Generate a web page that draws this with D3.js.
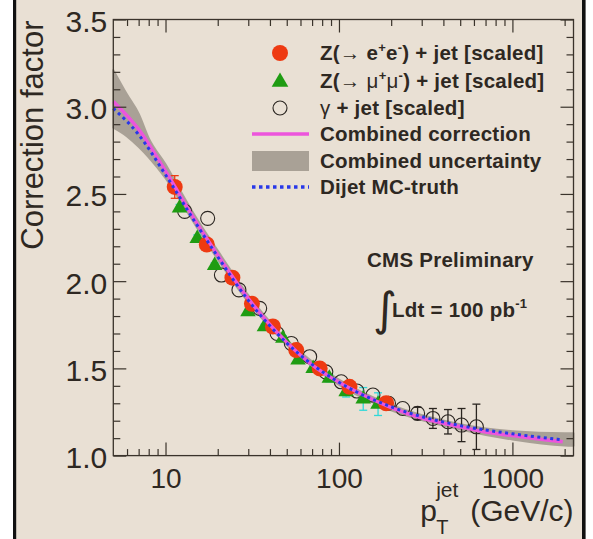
<!DOCTYPE html>
<html><head><meta charset="utf-8">
<script src="https://cdn.jsdelivr.net/npm/d3@7"></script>
<style>html,body{margin:0;padding:0;background:#fff;}svg{display:block;}</style>
</head><body>
<svg id="c" width="593" height="539"></svg>
<script>
// ---- data ----
const ptCurve   = [5,7,10,15,20,30,40,50,70,100,150,200,300,500,700,1000,1500,1950];
const corrCurve = [3.03,2.87,2.63,2.34,2.15,1.90,1.75,1.65,1.52,1.42,1.33,1.275,1.215,1.165,1.135,1.115,1.092,1.079];

const mcPt  = [5,7,10,15,20,30,50,100,200,500,1000,1900];
const mcVal = [2.99,2.84,2.61,2.33,2.14,1.89,1.645,1.42,1.28,1.172,1.125,1.092];

const bandPt = [5,6,7,8,10,12,15,20,30,50,100,200,500,1000,2000,2250];
const bandLo = [2.88,2.83,2.77,2.71,2.59,2.47,2.315,2.125,1.88,1.635,1.405,1.26,1.15,1.092,1.058,1.056];
const bandHi = [3.21,3.07,2.96,2.82,2.67,2.53,2.365,2.175,1.92,1.665,1.435,1.29,1.18,1.14,1.128,1.128];

const zeePt  = [11.3,17.3,24.3,31.5,41.6,56.7,77.4,115,187];
const zeeVal = [2.54,2.21,2.02,1.87,1.74,1.605,1.50,1.394,1.30];
const zeeErr = [0.065,0.03,0.02,0.02,0.015,0.015,0.015,0.015,0.02];

const zmmPt  = [12.05,15.24,19.2,29.9,37.2,47.5,58.1,71,88,110,138,168];
const zmmVal = [2.42,2.245,2.09,1.824,1.738,1.672,1.548,1.50,1.443,1.366,1.325,1.295];
const zmmErr = [0.02,0.02,0.015,0.015,0.015,0.015,0.015,0.02,0.02,0.03,0.065,0.065];

const gPt  = [12.9,17.5,21.0,26.5,34.9,44,53.1,67.8,84,103,127,157,193,233,284,348,425,509,620];
const gVal = [2.40,2.36,2.035,1.95,1.844,1.70,1.643,1.567,1.48,1.423,1.37,1.347,1.30,1.27,1.242,1.213,1.194,1.175,1.165];
const gErr = [0,0,0,0,0,0,0,0,0,0,0,0,0,0,0.035,0.057,0.07,0.095,0.13];

const xMajor = [10,100,1000];
const xMinor = [6,7,8,9,20,30,40,50,60,70,80,90,200,300,400,500,600,700,800,900,2000];
const yMajor = [1.0,1.5,2.0,2.5,3.0,3.5];
const yMinor = [1.1,1.2,1.3,1.4,1.6,1.7,1.8,1.9,2.1,2.2,2.3,2.4,2.6,2.7,2.8,2.9,3.1,3.2,3.3,3.4];

const legendLabels = ["Combined correction","Combined uncertainty","Dijet MC-truth"];

// ---- style ----
const BG = "#e9e0d4", INK = "#2e2822", AX = "#3a332b";
const RED = "#ee3a12", GREEN = "#1f9c12", CYAN = "#30d8d8", MAG = "#ec55dc", BLUE = "#2838e8", BAND = "#a9a196";
const FONT = "'Liberation Sans', Arial, Helvetica, sans-serif";
const LFS = 20.5;

const svg = d3.select("#c");
svg.append("rect").attr("x",16).attr("y",0).attr("width",569).attr("height",539).attr("fill",BG);
svg.append("rect").attr("x",13).attr("y",0).attr("width",3.2).attr("height",539).attr("fill","#111");
svg.append("rect").attr("x",582).attr("y",0).attr("width",3.6).attr("height",539).attr("fill","#111");

const L = 113.3, R = 573.5, T = 19.5, B = 455.6;
const x = d3.scaleLog().domain([5,2250]).range([L,R]);
const y = d3.scaleLinear().domain([1,3.5]).range([B,T]);

const plot = svg.append("g");
// band
const band = bandPt.map((p,i)=>({p, lo:bandLo[i], hi:bandHi[i]}));
plot.append("path").datum(band)
  .attr("d", d3.area().x(d=>x(d.p)).y0(d=>y(d.lo)).y1(d=>y(d.hi)).curve(d3.curveMonotoneX))
  .attr("fill",BAND).attr("stroke",BAND).attr("stroke-width",2).attr("stroke-linejoin","round");

// error bars helper
function errBars(pt,val,err,color){
  const g = plot.append("g").attr("stroke",color).attr("stroke-width",1.3);
  pt.forEach((p,i)=>{
    if(!err[i]) return;
    const cx=x(p), y0=y(val[i]-err[i]), y1=y(val[i]+err[i]);
    g.append("line").attr("x1",cx).attr("x2",cx).attr("y1",y0).attr("y2",y1);
    g.append("line").attr("x1",cx-4).attr("x2",cx+4).attr("y1",y0).attr("y2",y0);
    g.append("line").attr("x1",cx-4).attr("x2",cx+4).attr("y1",y1).attr("y2",y1);
  });
}
errBars(gPt,gVal,gErr,"#2a2520");
errBars(zmmPt,zmmVal,zmmErr,CYAN);
errBars(zeePt,zeeVal,zeeErr,RED);

// gamma open circles
plot.append("g").selectAll("circle").data(gPt).join("circle")
  .attr("cx",(d)=>x(d)).attr("cy",(d,i)=>y(gVal[i])).attr("r",7)
  .attr("fill","none").attr("stroke","#2a2520").attr("stroke-width",1.1);
// Z->mumu triangles
plot.append("g").selectAll("path").data(zmmPt).join("path")
  .attr("d", d3.symbol(d3.symbolTriangle).size(105))
  .attr("transform",(d,i)=>`translate(${x(d)},${y(zmmVal[i])})`)
  .attr("fill",GREEN);
// Z->ee circles
plot.append("g").selectAll("circle").data(zeePt).join("circle")
  .attr("cx",(d)=>x(d)).attr("cy",(d,i)=>y(zeeVal[i])).attr("r",8)
  .attr("fill",RED);

// combined correction
plot.append("path").datum(ptCurve.map((p,i)=>[p,corrCurve[i]]))
  .attr("d", d3.line().x(d=>x(d[0])).y(d=>y(d[1])).curve(d3.curveMonotoneX))
  .attr("fill","none").attr("stroke",MAG).attr("stroke-width",3.5);
// MC truth
plot.append("path").datum(mcPt.map((p,i)=>[p,mcVal[i]]))
  .attr("d", d3.line().x(d=>x(d[0])).y(d=>y(d[1])).curve(d3.curveMonotoneX))
  .attr("fill","none").attr("stroke",BLUE).attr("stroke-width",3).attr("stroke-dasharray","3,3.5");

// ---- axes ----
function styleAxis(g, showText){
  g.select(".domain").remove();
  g.selectAll("line").attr("stroke",AX).attr("stroke-width",1.2);
  if(!showText) g.selectAll("text").remove();
  else g.selectAll("text").attr("fill",INK).attr("font-family",FONT);
}
const xb = svg.append("g").attr("transform",`translate(0,${B})`)
  .call(d3.axisBottom(x).tickValues(xMajor).tickFormat(d3.format("d")).tickSizeInner(-13).tickSizeOuter(0).tickPadding(12.8));
styleAxis(xb,true); xb.selectAll("text").attr("font-size",28);
const xbm = svg.append("g").attr("transform",`translate(0,${B})`)
  .call(d3.axisBottom(x).tickValues(xMinor).tickSizeInner(-6.5).tickSizeOuter(0));
styleAxis(xbm,false);
const xt = svg.append("g").attr("transform",`translate(0,${T})`)
  .call(d3.axisTop(x).tickValues(xMajor).tickSizeInner(-13).tickSizeOuter(0));
styleAxis(xt,false);
const xtm = svg.append("g").attr("transform",`translate(0,${T})`)
  .call(d3.axisTop(x).tickValues(xMinor).tickSizeInner(-6.5).tickSizeOuter(0));
styleAxis(xtm,false);

const yl = svg.append("g").attr("transform",`translate(${L},0)`)
  .call(d3.axisLeft(y).tickValues(yMajor).tickFormat(d3.format(".1f")).tickSizeInner(-13).tickSizeOuter(0).tickPadding(6));
styleAxis(yl,true); yl.selectAll("text").attr("font-size",30).attr("dy","0.4em");
const ylm = svg.append("g").attr("transform",`translate(${L},0)`)
  .call(d3.axisLeft(y).tickValues(yMinor).tickSizeInner(-7).tickSizeOuter(0));
styleAxis(ylm,false);
const yr = svg.append("g").attr("transform",`translate(${R},0)`)
  .call(d3.axisRight(y).tickValues(yMajor).tickSizeInner(-13).tickSizeOuter(0));
styleAxis(yr,false);
const yrm = svg.append("g").attr("transform",`translate(${R},0)`)
  .call(d3.axisRight(y).tickValues(yMinor).tickSizeInner(-7).tickSizeOuter(0));
styleAxis(yrm,false);

// frame
svg.append("rect").attr("x",L).attr("y",T).attr("width",R-L).attr("height",B-T)
  .attr("fill","none").attr("stroke",AX).attr("stroke-width",1.3);

// axis titles
svg.append("text").attr("transform",`translate(43,${T+1}) rotate(-90)`)
  .attr("text-anchor","end").attr("font-family",FONT).attr("font-size",31).attr("fill",INK)
  .text("Correction factor");

const xtitle = svg.append("text").attr("x",R).attr("y",521).attr("text-anchor","end")
  .attr("font-family",FONT).attr("font-size",30).attr("fill",INK).text("(GeV/c)");
const w = xtitle.node().getComputedTextLength();
const px0 = R - w - 8 - 25;
svg.append("text").attr("x",px0-17).attr("y",521).attr("font-family",FONT).attr("font-size",30).attr("fill",INK).text("p");
svg.append("text").attr("x",px0-1).attr("y",497).attr("font-family",FONT).attr("font-size",21).attr("fill",INK).text("jet");
svg.append("text").attr("x",px0-1).attr("y",534).attr("font-family",FONT).attr("font-size",20).attr("fill",INK).text("T");

// ---- legend ----
const lg = svg.append("g");
const rowY = [53,81,108,134,161,187];
lg.append("circle").attr("cx",280).attr("cy",rowY[0]).attr("r",8).attr("fill",RED);
lg.append("path").attr("d",d3.symbol(d3.symbolTriangle).size(120)).attr("transform",`translate(280,${rowY[1]+1})`).attr("fill",GREEN);
lg.append("circle").attr("cx",280).attr("cy",rowY[2]).attr("r",7).attr("fill","none").attr("stroke","#2a2520").attr("stroke-width",1.1);
lg.append("line").attr("x1",252).attr("x2",309).attr("y1",rowY[3]).attr("y2",rowY[3]).attr("stroke",MAG).attr("stroke-width",3.5);
lg.append("rect").attr("x",252).attr("y",rowY[4]-10).attr("width",57).attr("height",20).attr("fill",BAND);
lg.append("line").attr("x1",252).attr("x2",309).attr("y1",rowY[5]).attr("y2",rowY[5]).attr("stroke",BLUE).attr("stroke-width",3.5).attr("stroke-dasharray","3.5,3.5");

function legText(i){
  return lg.append("text").attr("x",320).attr("y",rowY[i]+7).attr("font-family",FONT)
    .attr("font-size",LFS).attr("letter-spacing",0.25).attr("font-weight","bold").attr("fill",INK);
}
// parts: s=text, n=normal weight, up=superscript, down=return to baseline
function addSpans(t, parts){
  parts.forEach(p=>{
    const s = t.append("tspan").text(p.s);
    if(p.n) s.attr("font-weight","normal");
    if(p.up){ s.attr("font-size",13).attr("dy",-8); }
    if(p.down){ s.attr("dy",8); }
  });
}
addSpans(legText(0),[{s:"Z("},{s:"→",n:1},{s:" e"},{s:"+",up:1},{s:"e",down:1},{s:"-",up:1},{s:") + jet [scaled]",down:1}]);
addSpans(legText(1),[{s:"Z("},{s:"→ μ",n:1},{s:"+",up:1},{s:"μ",n:1,down:1},{s:"-",up:1},{s:") + jet [scaled]",down:1}]);
addSpans(legText(2),[{s:"γ",n:1},{s:" + jet [scaled]"}]);
legText(3).text(legendLabels[0]);
legText(4).text(legendLabels[1]);
legText(5).text(legendLabels[2]);

// CMS text
svg.append("text").attr("x",367).attr("y",267).attr("font-family",FONT).attr("font-size",LFS).attr("letter-spacing",0.25)
  .attr("font-weight","bold").attr("fill",INK).text("CMS Preliminary");
svg.append("text").attr("x",373).attr("y",325).attr("font-family","'DejaVu Sans', sans-serif").attr("font-size",46)
  .attr("fill",INK).text("∫");
const lum = svg.append("text").attr("x",392).attr("y",317).attr("font-family",FONT).attr("font-size",LFS).attr("letter-spacing",0.25)
  .attr("font-weight","bold").attr("fill",INK);
lum.append("tspan").text("Ldt = 100 pb");
lum.append("tspan").attr("font-size",13).attr("dy",-9).text("-1");
</script>
</body></html>
